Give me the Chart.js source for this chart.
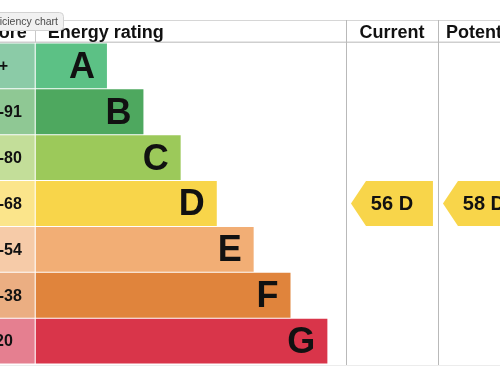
<!DOCTYPE html>
<html>
<head>
<meta charset="utf-8">
<script src="https://cdn.jsdelivr.net/npm/chart.js@4"></script>
<style>
  body { margin: 0; background: #fff; }
  #wrap { position: relative; width: 500px; height: 375px; overflow: hidden; }
</style>
</head>
<body>
<div id="wrap"><canvas id="chartEpc" width="500" height="375"></canvas></div>
<script>
const bands = ['A', 'B', 'C', 'D', 'E', 'F', 'G']
const scoreRanges = ['92+', '81-91', '69-80', '55-68', '39-54', '21-38', '1-20']
const bandMinScores = [92, 81, 69, 55, 39, 21, 1]
const barLengths = [1.95, 2.95, 3.97, 4.96, 5.97, 6.98, 7.99]
const barColours = ['#5cc185', '#4ea85f', '#9cc95a', '#f8d54a', '#f2ae75', '#e0843c', '#d9354a']
const scoreColours = ['#8bcba7', '#8fc894', '#c3de99', '#fbe58b', '#f6cba8', '#ebae82', '#e57f90']
const headers = ['Score', 'Energy rating', 'Current', 'Potential']
const currentScore = 56
const potentialScore = 58

// column edges in x-axis units
const cols = { score: [-1.86, 0], rating: [0, 8.5], current: [8.5, 11.02], potential: [11.02, 13.54] }
const FONT = '"Liberation Sans", Arial, Helvetica, sans-serif'

const bandFor = score => bandMinScores.findIndex(min => score >= min)

const epcPlugin = {
    id: 'epc',
    afterDatasetsDraw(chart) {
        const ctx = chart.ctx
        const x = chart.scales.x
        const area = chart.chartArea
        const px = v => x.getPixelForValue(v)
        const scoreEls = chart.getDatasetMeta(0).data
        const barEls = chart.getDatasetMeta(1).data

        ctx.save()
        // score labels
        ctx.fillStyle = '#111'
        ctx.font = `bold 16px ${FONT}`
        ctx.textBaseline = 'middle'
        ctx.textAlign = 'left'
        scoreEls.forEach((el, i) => {
            ctx.fillText(scoreRanges[i], px(cols.score[0]) + 13, el.y + 1)
        })
        // band letters
        ctx.font = `bold 36px ${FONT}`
        ctx.textAlign = 'right'
        barEls.forEach((el, i) => {
            ctx.fillText(bands[i], el.x - 12, el.y + 2)
        })

        // lines
        ctx.lineWidth = 1
        ctx.strokeStyle = '#d6d6d6'
        ctx.beginPath()
        ctx.moveTo(0, 20.5); ctx.lineTo(500, 20.5)
        ctx.stroke()
        ctx.strokeStyle = '#cfcfcf'
        ctx.lineWidth = 1.5
        ctx.beginPath()
        ctx.moveTo(0, 42.25); ctx.lineTo(500, 42.25)
        ctx.stroke()
        ctx.lineWidth = 1
        ctx.strokeStyle = '#ececec'
        ctx.beginPath()
        ctx.moveTo(0, area.bottom + 1.5); ctx.lineTo(500, area.bottom + 1.5)
        ctx.stroke()
        ctx.strokeStyle = '#c8c8c8'
        ctx.beginPath()
        ctx.moveTo(Math.round(px(0)) - 0.5, 20); ctx.lineTo(Math.round(px(0)) - 0.5, 42)
        ctx.stroke()
        ctx.strokeStyle = '#b9b9b9'
        ;[cols.current[0], cols.potential[0]].forEach(v => {
            const lx = Math.round(px(v)) + 0.5
            ctx.beginPath()
            ctx.moveTo(lx, 20); ctx.lineTo(lx, area.bottom + 1)
            ctx.stroke()
        })

        // headers
        ctx.fillStyle = '#111'
        ctx.font = `bold 18px ${FONT}`
        ctx.textBaseline = 'alphabetic'
        ctx.textAlign = 'center'
        ctx.fillText(headers[0], (px(cols.score[0]) + px(cols.score[1])) / 2, 38)
        ctx.textAlign = 'left'
        ctx.fillText(headers[1], px(cols.rating[0]) + 12, 38)
        ctx.textAlign = 'center'
        ctx.fillText(headers[2], (px(cols.current[0]) + px(cols.current[1])) / 2, 38)
        ctx.fillText(headers[3], (px(cols.potential[0]) + px(cols.potential[1])) / 2, 38)

        // rating arrows
        const drawArrow = (col, score) => {
            const b = bandFor(score)
            const el = barEls[b]
            const top = el.y - el.height / 2
            const bottom = el.y + el.height / 2
            const l = px(col[0]) + 5
            const r = px(col[1]) - 5
            const mid = (top + bottom) / 2
            ctx.fillStyle = barColours[b]
            ctx.beginPath()
            ctx.moveTo(l, mid)
            ctx.lineTo(l + 15, top)
            ctx.lineTo(r, top)
            ctx.lineTo(r, bottom)
            ctx.lineTo(l + 15, bottom)
            ctx.closePath()
            ctx.fill()
            ctx.fillStyle = '#111'
            ctx.font = `bold 20px ${FONT}`
            ctx.textAlign = 'center'
            ctx.textBaseline = 'middle'
            ctx.fillText(`${score} ${bands[b]}`, (l + r) / 2, mid + 1)
        }
        drawArrow(cols.current, currentScore)
        drawArrow(cols.potential, potentialScore)

        // hover title tooltip
        ctx.fillStyle = '#f1f1f1'
        ctx.strokeStyle = '#d2d2d2'
        ctx.beginPath()
        ctx.roundRect(-10.5, 12.5, 74, 18, 4)
        ctx.fill()
        ctx.stroke()
        ctx.fillStyle = '#4a4a4a'
        ctx.font = `10.5px ${FONT}`
        ctx.textAlign = 'right'
        ctx.textBaseline = 'middle'
        ctx.fillText('Energy efficiency chart', 58, 22)
        ctx.restore()
    }
}

const chartEpc = new Chart(document.getElementById('chartEpc'), {
    type: 'bar',
    data: {
        labels: bands,
        datasets: [
            {
                label: 'Score',
                data: bands.map(() => [cols.score[0], cols.score[1] - 0.03]),
                backgroundColor: scoreColours
            },
            {
                label: 'Energy rating',
                data: barLengths.map(v => [0, v]),
                backgroundColor: barColours
            }
        ]
    },
    options: {
        indexAxis: 'y',
        responsive: false,
        animation: false,
        events: [],
        layout: { padding: { top: 43, bottom: 11, left: 0, right: 0 } },
        datasets: { bar: { grouped: false, barPercentage: 1, categoryPercentage: 0.978, borderWidth: 0 } },
        scales: {
            x: { type: 'linear', min: -0.98, max: 12.72, display: false },
            y: { display: false }
        },
        plugins: {
            legend: { display: false },
            tooltip: { enabled: false },
            title: { display: false }
        }
    },
    plugins: [epcPlugin]
})
</script>
</body>
</html>
